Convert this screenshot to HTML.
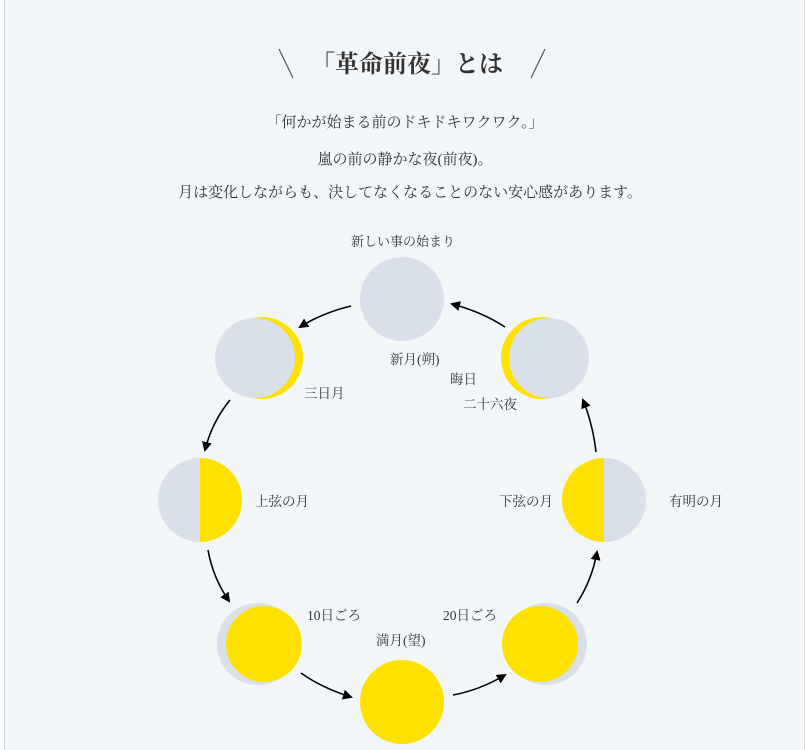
<!DOCTYPE html>
<html><head><meta charset="utf-8"><style>
html,body{margin:0;padding:0;width:809px;height:750px;overflow:hidden;background:#fff}
.wrap{position:absolute;left:4px;top:0;width:799px;height:750px;background:#f3f6f9;border-left:1px solid #d5dbe2;border-right:1px solid #d5dbe2}
svg{position:absolute;left:0;top:0}
text{font-family:"Liberation Serif","Noto Serif CJK SC",serif;fill:#333}
</style></head><body>
<div class="wrap"></div>
<svg width="809" height="750" viewBox="0 0 809 750">
<defs><marker id="a" markerWidth="10" markerHeight="10" refX="8" refY="5" orient="auto" markerUnits="userSpaceOnUse"><path d="M0,0 L10,5 L0,10 Z" fill="#000"/></marker></defs>
<line x1="279" y1="49" x2="293" y2="78" stroke="#555" stroke-width="1.2"/>
<line x1="545" y1="49" x2="531" y2="78" stroke="#555" stroke-width="1.2"/>
<text x="407" y="72" font-size="24" font-weight="bold" text-anchor="middle" fill="#444">「革命前夜」とは</text>
<text x="405" y="127" font-size="15" text-anchor="middle">「何かが始まる前のドキドキワクワク。」</text>
<text x="405" y="164" font-size="15" text-anchor="middle">嵐の前の静かな夜(前夜)。</text>
<text x="410" y="197" font-size="15" text-anchor="middle">月は変化しながらも、決してなくなることのない安心感があります。</text>
<text x="403" y="246" font-size="13" text-anchor="middle">新しい事の始まり</text>
<circle cx="402" cy="299" r="42" fill="#dae0ea"/>
<circle cx="262" cy="358" r="41" fill="#ffe100"/><circle cx="255" cy="358" r="40" fill="#dae0ea"/>
<circle cx="542" cy="358" r="41" fill="#ffe100"/><circle cx="549" cy="358" r="40" fill="#dae0ea"/>
<circle cx="200" cy="500" r="42" fill="#dae0ea"/><path d="M200,458 A42,42 0 0 1 200,542 Z" fill="#ffe100"/>
<circle cx="604" cy="500" r="42" fill="#dae0ea"/><path d="M604,458 A42,42 0 0 0 604,542 Z" fill="#ffe100"/>
<circle cx="258" cy="644" r="41" fill="#dae0ea"/><circle cx="264" cy="644" r="38" fill="#ffe100"/>
<circle cx="546" cy="644" r="41" fill="#dae0ea"/><circle cx="540" cy="644" r="38" fill="#ffe100"/>
<circle cx="402" cy="702" r="42" fill="#ffe100"/>
<g fill="none" stroke="#000" stroke-width="1.6" marker-end="url(#a)">
<path d="M351,306 Q322,313 300,327"/>
<path d="M505,327 Q482,312 452,304"/>
<path d="M230,400 Q212,422 205,450"/>
<path d="M208,550 Q213,578 229,601"/>
<path d="M301,673 Q322,688 351,697"/>
<path d="M453,695 Q480,690 505,675"/>
<path d="M577,603 Q592,580 597,552"/>
<path d="M596,452 Q593,425 583,400"/>
</g>
<g font-size="13.5">
<text x="304" y="398">三日月</text>
<text x="390" y="364">新月(朔)</text>
<text x="450" y="384">晦日</text>
<text x="463" y="409">二十六夜</text>
<text x="255" y="506">上弦の月</text>
<text x="499" y="506">下弦の月</text>
<text x="669" y="506">有明の月</text>
<text x="307" y="620">10日ごろ</text>
<text x="443" y="620">20日ごろ</text>
<text x="376" y="645">満月(望)</text>
</g>
</svg>
</body></html>
